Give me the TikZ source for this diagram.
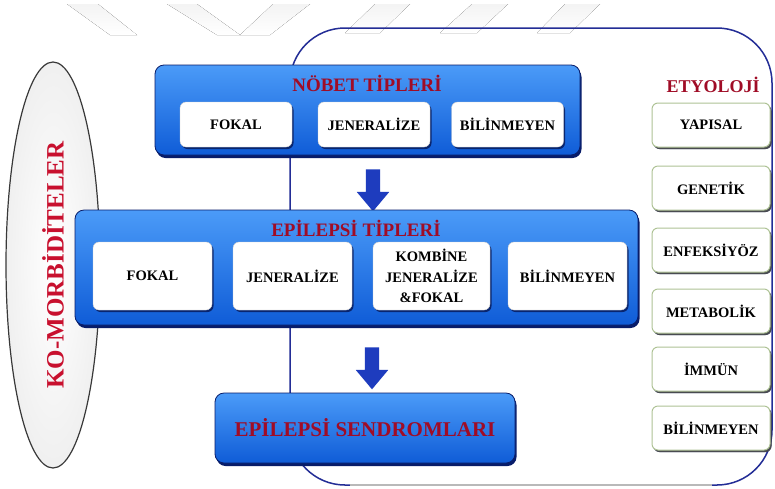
\documentclass[tikz,border=0pt]{standalone}
\usepackage{fontspec}
\setmainfont{Liberation Serif}
\usetikzlibrary{shapes.geometric,shapes.arrows,shadows,positioning}
\definecolor{TitleRed}{RGB}{160,12,38}
\definecolor{SideRed}{RGB}{200,16,46}
\definecolor{BoxBlueTop}{RGB}{75,155,248}
\definecolor{BoxBlue}{RGB}{15,92,215}
\definecolor{BoxNavy}{RGB}{8,28,105}
\definecolor{ArrowBlue}{RGB}{30,60,190}
\definecolor{FrameNavy}{RGB}{35,45,150}
\definecolor{EtyEdge}{RGB}{175,195,150}

\begin{document}
\begin{tikzpicture}[x=1pt, y=1pt, font=\bfseries]
  \tikzstyle{panel} = [rectangle, rounded corners=9pt, draw=BoxNavy, line width=0.8pt,
    top color=BoxBlueTop, bottom color=BoxBlue,
    drop shadow={shadow xshift=1.5pt, shadow yshift=-3pt, fill=BoxNavy, opacity=1}]
  \tikzstyle{cell} = [rectangle, rounded corners=6pt, fill=white, draw=gray!40,
    minimum width=112pt, minimum height=45pt, inner sep=0pt, align=center,
    font=\fontsize{14.5}{20.5}\selectfont\bfseries,
    drop shadow={shadow xshift=1.5pt, shadow yshift=-2pt, fill=BoxNavy!80!black, opacity=0.8}]
  \tikzstyle{cause} = [cell, draw=EtyEdge, line width=1pt, minimum width=118pt, minimum height=44pt,
    drop shadow={shadow xshift=1.5pt, shadow yshift=-2pt, fill=black!70, opacity=0.9}]
  \tikzstyle{heading} = [text=TitleRed, inner sep=0pt, font=\fontsize{19}{20}\selectfont\bfseries]
  \tikzstyle{downarrow} = [single arrow, shape border rotate=270, fill=ArrowBlue, inner sep=7pt,
    minimum height=42pt, minimum width=32pt, single arrow head extend=9pt, single arrow tip angle=80]
  \tikzstyle{watermark} = [top color=gray!9, bottom color=white, draw=none]

  \useasboundingbox (0,-488) rectangle (775,0);
  \fill[white] (0,-488) rectangle (775,0);

  % faint watermark at the top
  \fill[watermark] (67,-4) -- (98,-4) -- (137,-35) -- (110,-35) -- cycle;
  \fill[watermark] (167,-4) -- (197,-4) -- (240,-35) -- (217,-35) -- cycle;
  \fill[watermark] (273,-4) -- (310,-4) -- (270,-35) -- (240,-35) -- cycle;
  \fill[watermark] (375,-4) -- (410,-4) -- (380,-33) -- (345,-33) -- cycle;
  \fill[watermark] (472,-4) -- (508,-4) -- (477,-33) -- (440,-33) -- cycle;
  \fill[watermark] (565,-4) -- (600,-4) -- (570,-33) -- (537,-33) -- cycle;

  % frame round the types
  \draw[FrameNavy, line width=1.5pt, rounded corners=55pt] (290,-28) rectangle (772,-485);
  \draw[gray!55, line width=1.6pt] (350,-485) -- (712,-485);

  % co-morbidities
  \node (komorb) [ellipse, rotate=90, minimum width=406pt, minimum height=94pt,
    draw=gray!45!black, line width=1.2pt, inner color=white, outer color=gray!12,
    text=SideRed, font=\fontsize{25}{26}\selectfont\bfseries] at (53,-265) {KO-MORBİDİTELER};

  % seizure types
  \node (nobet) [panel, minimum width=425pt, minimum height=90pt] at (367.5,-110) {};
  \node (nobetTitle) [heading] at (367,-83) {NÖBET TİPLERİ};
  \node (nFokal) [cell] at (236,-124.5) {FOKAL};
  \node (nJener) [cell] at (374,-124.5) {JENERALİZE};
  \node (nBilin) [cell] at (507.5,-124.5) {BİLİNMEYEN};

  \node (arrA) [downarrow] at (373,-186) {};

  % epilepsy types
  \node (epi) [panel, minimum width=563pt, minimum height=115pt] at (356.5,-267.5) {};
  \node (epiTitle) [heading] at (356,-228) {EPİLEPSİ TİPLERİ};
  \node (eFokal) [cell, minimum width=119pt, minimum height=68pt] at (152.5,-276) {FOKAL};
  \node (eJener) [cell, minimum width=119pt, minimum height=68pt] at (292.5,-276) {JENERALİZE};
  \node (eKomb) [cell, minimum width=117pt, minimum height=68pt] at (431.5,-276) {KOMBİNE\\JENERALİZE\\\&FOKAL};
  \node (eBilin) [cell, minimum width=119pt, minimum height=68pt] at (567.5,-276) {BİLİNMEYEN};

  \node (arrB) [downarrow] at (372,-364) {};

  % syndromes
  \node (sendrom) [panel, minimum width=300pt, minimum height=70pt, text=TitleRed,
    font=\fontsize{21}{22}\selectfont\bfseries] at (365,-428) {EPİLEPSİ SENDROMLARI};

  % etiology
  \node (etyoloji) [heading, font=\fontsize{18}{20}\selectfont\bfseries] at (713,-85) {ETYOLOJİ};
  \foreach \nm/\txt/\yy in {yapisal/YAPISAL/125, genetik/GENETİK/188, enfeksiyoz/ENFEKSİYÖZ/250,
      metabolik/METABOLİK/311, immun/İMMÜN/369, bilinmeyen/BİLİNMEYEN/428}
    \node (\nm) [cause] at (711,-\yy) {\txt};
\end{tikzpicture}
\end{document}
